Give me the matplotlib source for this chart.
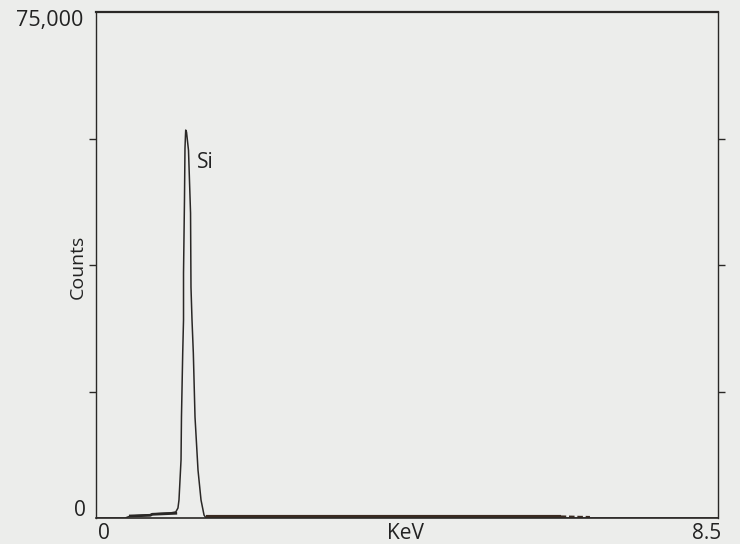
import matplotlib
matplotlib.use("Agg")
import matplotlib.pyplot as plt
import numpy as np

# EDS spectrum (energy in keV, counts)
energy = [0.0, 0.40, 0.47, 0.74, 0.77, 1.01, 1.09, 1.12, 1.134, 1.162, 1.168, 1.185,
          1.196, 1.196, 1.209, 1.216, 1.223, 1.226, 1.237, 1.264, 1.292, 1.298,
          1.312, 1.330, 1.353, 1.394, 1.435, 1.476, 1.503, 8.5]
counts = [0, 0, 300, 450, 600, 740, 890, 1480, 2670, 8600, 14970, 24450,
          29350, 36300, 47100, 54800, 56800, 57500, 57200, 54500, 45200, 34200,
          29350, 24450, 14970, 7100, 2670, 450, 0, 0]

# thick continuum trace along the floor
shelf_energy = [0.47, 0.74, 0.77, 1.09]
shelf_counts = [300, 400, 550, 700]
floor_energy = [1.50, 3.0, 4.5, 6.0, 6.35]
floor_counts = [200, 200, 200, 200, 200]
tail_energy = [6.35, 6.50, 6.60, 6.75]
tail_counts = [180, 150, 120, 100]

ymax = 75000
xmax = 8.5
peak_label = "Si"
peak_label_pos = (1.38, 52700)

bg = "#ecedeb"
ink = "#2a2826"
txt = "#222222"

fig = plt.figure(figsize=(7.4, 5.44), dpi=100, facecolor=bg)
ax = fig.add_axes([96 / 740, 26 / 544, 622 / 740, 506 / 544], facecolor=bg)

ax.plot(energy, counts, color=ink, lw=1.1)
ax.plot(shelf_energy, shelf_counts, color=ink, lw=2.0)
ax.plot(floor_energy, floor_counts, color="#3a2a20", lw=3.0, solid_capstyle="butt")
ax.plot(tail_energy, tail_counts, color="#3a2a20", lw=2.0, ls=(0, (2, 1)))

ax.set_xlim(0, xmax)
ax.set_ylim(0, ymax)

for side in ["left", "right"]:
    ax.spines[side].set_linewidth(1.0)
    ax.spines[side].set_color(ink)
ax.spines["top"].set_linewidth(1.6)
ax.spines["top"].set_color(ink)
ax.spines["bottom"].set_linewidth(1.2)
ax.spines["bottom"].set_color(ink)

ax.set_xticks([])
ax.set_yticks([ymax / 4, ymax / 2, 3 * ymax / 4])
ax.tick_params(axis="y", which="both", direction="out", length=5, width=1.0,
               color=ink, left=True, right=True, labelleft=False, labelright=False)

font = "Open Sans"
ax.text(-0.021, 0.984, "75,000", transform=ax.transAxes, ha="right", va="center",
        fontsize=15.5, color=txt, family=font)
ax.text(-0.016, 0.014, "0", transform=ax.transAxes, ha="right", va="center",
        fontsize=15, color=txt, family=font)
ax.text(0.013, -0.030, "0", transform=ax.transAxes, ha="center", va="center",
        fontsize=15, color=txt, family=font)
ax.text(0.981, -0.031, "8.5", transform=ax.transAxes, ha="center", va="center",
        fontsize=15, color=txt, family=font)
ax.text(0.497, -0.031, "KeV", transform=ax.transAxes, ha="center", va="center",
        fontsize=15, color=txt, family=font)
ax.text(-0.030, 0.496, "Counts", transform=ax.transAxes, ha="center", va="center",
        rotation=90, fontsize=14, color=txt, family=font)
ax.text(peak_label_pos[0], peak_label_pos[1], peak_label, ha="left", va="center",
        fontsize=15, color=txt, family=font)

fig.savefig("out.png", dpi=100, facecolor=bg)
